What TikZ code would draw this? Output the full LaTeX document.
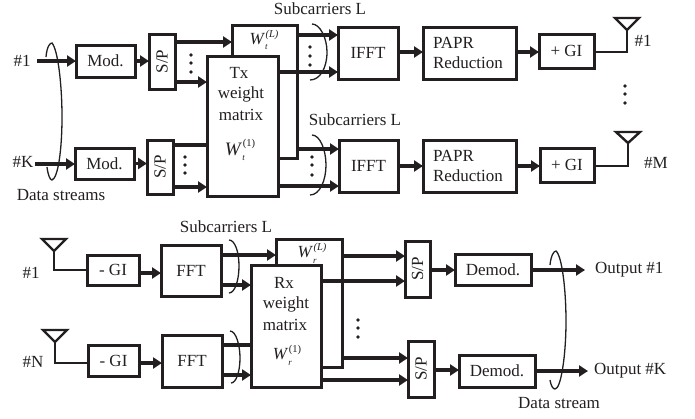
\documentclass[tikz,border=0pt]{standalone}
\usepackage{fontspec}
\usepackage{graphicx}
\setmainfont{Liberation Serif}
\usetikzlibrary{arrows.meta,calc}
\definecolor{ink}{HTML}{231F20}
\newcommand{\bx}[6]{%
  \node[blk,minimum width=#4pt-#2pt,minimum height=#5pt-#3pt] (#1) at ({(#2+#4)/2},{(#3+#5)/2}) {#6};}
\newcommand{\wgt}[3]{\fontsize{#3}{#3}\selectfont\textit{W}\rlap{\raisebox{-0.3em}{\fontsize{9}{9}\selectfont\textit{#1}}}\raisebox{0.45em}{\hspace{0.5pt}\fontsize{10.5}{10.5}\selectfont #2}}
\newcommand{\spt}{\rotatebox{90}{S/P}}
\newcommand{\vdotsat}[4]{\foreach \yy in {#2,#3,#4} \fill[ink] (#1,\yy) circle (1.8);}
\tikzset{
  every node/.style={font=\fontsize{17}{20}\selectfont,text=ink,inner sep=0pt,outer sep=0pt},
  blk/.style={draw=ink,line width=3pt,fill=white,align=center},
  conn/.style={draw=ink,line width=3.4pt,-{Triangle[length=9pt,width=11pt]}},
  plain/.style={draw=ink,line width=3.4pt},
  wire/.style={draw=ink,line width=2.4pt,line join=miter},
  loopc/.style={draw=ink,line width=1.3pt},
}
\begin{document}
\begin{tikzpicture}[x=1pt,y=-1pt]
\useasboundingbox (0,0) rectangle (695,418);

% ---------- transmitter ----------
\bx{modA}{76}{45}{135}{77}{Mod.}
\bx{modB}{75}{148}{134}{179}{Mod.}
\bx{spA}{149}{34}{175}{89}{\spt}
\bx{spB}{147}{140}{173}{194}{\spt}
\bx{wtL}{232}{25}{297}{158}{}
\bx{tx}{207}{56}{278}{196}{}
\bx{ifftA}{338}{27}{398}{79}{IFFT}
\bx{ifftB}{339}{140}{398}{192}{IFFT}
\bx{paprA}{423}{27}{516}{79}{}
\bx{paprB}{423}{140}{516}{192}{}
\bx{giA}{539}{34}{594}{68}{+ GI}
\bx{giB}{540}{148}{594}{182}{+ GI}

\node (wtLt) at (264,40) {\wgt{t}{\textit{(L)}}{17}};
\node (txa) at (239,73) {Tx};
\node (txb) at (241,94) {weight};
\node (txc) at (241,115) {matrix};
\node (wt1) at (240,150) {\wgt{t}{(1)}{19}};
\node[anchor=west] (pa1) at (433,43) {PAPR};
\node[anchor=west] (pa2) at (433,63) {Reduction};
\node[anchor=west] (pb1) at (433,156) {PAPR};
\node[anchor=west] (pb2) at (433,176) {Reduction};

\node (inA) at (22,61) {\#1};
\node (inB) at (23,162) {\#K};
\node (dsA) at (61,195) {Data streams};
\node (scA) at (320,9) {Subcarriers L};
\node (scB) at (355,120) {Subcarriers L};
\node (anA) at (643,41) {\#1};
\node (anB) at (656,163) {\#M};

\coordinate (stA) at (37,61);
\coordinate (stB) at (35,164);
\draw[conn] (stA) -- (modA.west |- stA);
\draw[conn] (stB) -- (modB.west |- stB);
\draw[conn] (modA.east) -- (spA.west |- modA.east);
\draw[conn] (modB.east) -- (spB.west |- modB.east);
\draw[conn] (spA.east |- 0,42) -- (wtL.west |- 0,42);
\draw[conn] (spA.east |- 0,82) -- (tx.west |- 0,82);
\draw[plain] (spB.east |- 0,145) -- (tx.west |- 0,145);
\draw[conn] (spB.east |- 0,187) -- (tx.west |- 0,187);
\draw[conn] (wtL.east |- 0,35) -- (ifftA.west |- 0,35);
\draw[conn] (tx.east |- 0,72) -- (ifftA.west |- 0,72);
\draw[conn] (wtL.east |- 0,149) -- (ifftB.west |- 0,149);
\draw[conn] (tx.east |- 0,186) -- (ifftB.west |- 0,186);
\draw[conn] (ifftA.east |- 0,52) -- (paprA.west |- 0,52);
\draw[conn] (ifftB.east |- 0,166) -- (paprB.west |- 0,166);
\draw[conn] (paprA.east |- 0,52) -- (giA.west |- 0,52);
\draw[conn] (paprB.east |- 0,166) -- (giB.west |- 0,166);

\coordinate (antA) at (627,30);
\coordinate (antB) at (628,143);
\draw[wire] (giA.east |- 0,52) -| (antA);
\draw[wire] (giB.east |- 0,166) -| (antB);
\draw[wire,fill=white] (615,18) -- (639,18) -- (antA) -- cycle;
\draw[wire,fill=white] (616,132) -- (640,132) -- (antB) -- cycle;

\vdotsat{191}{55}{63}{72}
\vdotsat{185}{157}{165}{173}
\vdotsat{310}{47}{56}{65}
\vdotsat{312}{157}{165}{175}
\vdotsat{625}{86}{94}{103}

\draw[loopc] (46,57) .. controls (47,46) and (50,43) .. (52,43)
  .. controls (58,50) and (62,85) .. (62,117)
  .. controls (62,150) and (58,178) .. (52,180)
  .. controls (50,180) and (48,175) .. (47,167);
\draw[loopc] (312,24) .. controls (320,24) and (327,38) .. (327,52)
  .. controls (327,68) and (320,80) .. (310,80);
\draw[loopc] (312,135) .. controls (320,135) and (326,150) .. (326,165)
  .. controls (326,180) and (320,195) .. (310,195);

% ---------- receiver ----------
\bx{rgA}{87}{255}{139}{285}{- GI}
\bx{rgB}{88}{345}{139}{376}{- GI}
\bx{fftA}{161}{245}{221}{296}{FFT}
\bx{fftB}{162}{335}{222}{387}{FFT}
\bx{wrL}{276}{239}{342}{367}{}
\bx{rx}{251}{265}{321}{387}{}
\bx{srA}{405}{241}{430}{297}{\spt}
\bx{srB}{408}{341}{434}{397}{\spt}
\bx{demA}{455}{254}{531}{285}{Demod.}
\bx{demB}{459}{355}{535}{387}{Demod.}

\node (wrLt) at (312,253) {\wgt{r}{\textit{(L)}}{17}};
\node (rxa) at (284,283) {Rx};
\node (rxb) at (286,304) {weight};
\node (rxc) at (285,325) {matrix};
\node (wr1) at (287,355) {\wgt{r}{(1)}{17}};

\node (rn1) at (31,273) {\#1};
\node (rnN) at (33,362) {\#N};
\node (scC) at (226,227) {Subcarriers L};
\node (dsB) at (559,403) {Data stream};
\node[anchor=west] (ouA) at (595,270) {Output \#1};
\node[anchor=west] (ouB) at (594,371) {Output \#K};

\coordinate (antC) at (54,251);
\coordinate (antD) at (55,342);
\draw[wire] (antC) |- (rgA.west);
\draw[wire] (antD) |- (rgB.west |- 0,363);
\draw[wire,fill=white] (42,239) -- (66,239) -- (antC) -- cycle;
\draw[wire,fill=white] (43,330) -- (67,330) -- (antD) -- cycle;

\draw[conn] (rgA.east |- 0,273) -- (fftA.west |- 0,273);
\draw[conn] (rgB.east |- 0,363) -- (fftB.west |- 0,363);
\draw[conn] (fftA.east |- 0,255) -- (wrL.west |- 0,255);
\draw[conn] (fftA.east |- 0,285) -- (rx.west |- 0,285);
\draw[plain] (fftB.east |- 0,345) -- (rx.west |- 0,345);
\draw[conn] (fftB.east |- 0,375) -- (rx.west |- 0,375);
\draw[conn] (wrL.east |- 0,256) -- (srA.west |- 0,256);
\draw[conn] (rx.east |- 0,281) -- (srA.west |- 0,281);
\draw[conn] (wrL.east |- 0,358) -- (srB.west |- 0,358);
\draw[conn] (rx.east |- 0,380) -- (srB.west |- 0,380);
\draw[conn] (srA.east |- 0,270) -- (demA.west |- 0,270);
\draw[conn] (srB.east |- 0,370) -- (demB.west |- 0,370);
\coordinate (enA) at (585,270);
\coordinate (enB) at (588,371);
\draw[conn] (demA.east |- enA) -- (enA);
\draw[conn] (demB.east |- enB) -- (enB);

\vdotsat{358}{320}{328}{337}

\draw[loopc] (229,240) .. controls (235,240) and (239,252) .. (239,266)
  .. controls (239,280) and (235,293) .. (229,293);
\draw[loopc] (230,331) .. controls (236,331) and (240,345) .. (240,358)
  .. controls (240,372) and (236,383) .. (231,383);
\draw[loopc] (550,265) .. controls (551,255) and (554,251) .. (556,251)
  .. controls (562,256) and (566,290) .. (566,321)
  .. controls (566,355) and (561,389) .. (555,389)
  .. controls (553,389) and (551,386) .. (550,380);
\end{tikzpicture}
\end{document}
